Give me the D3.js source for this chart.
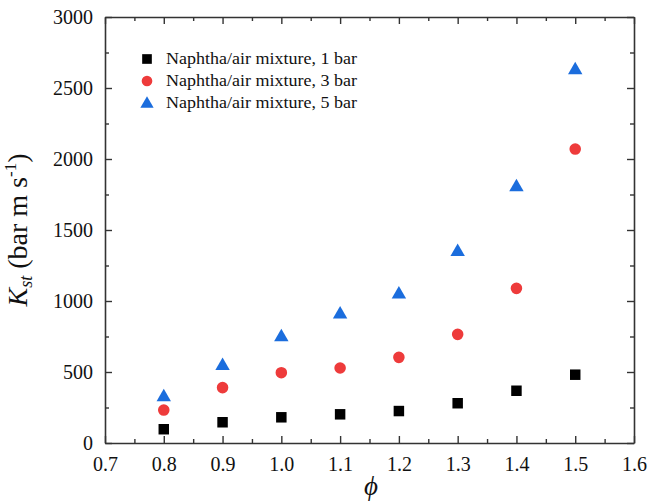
<!DOCTYPE html>
<html><head><meta charset="utf-8">
<script src="https://cdn.jsdelivr.net/npm/d3@7"></script>
<style>body{margin:0;background:#fff;} svg{display:block;} svg text{font-family:"Liberation Serif","Times New Roman",serif !important;}</style>
</head><body>
<script>
const phi = [0.8, 0.9, 1.0, 1.1, 1.2, 1.3, 1.4, 1.5];
const kst1bar = [97, 146, 181, 202, 225, 280, 368, 481];
const kst3bar = [232, 390, 495, 528, 603, 765, 1089, 2070];
const kst5bar = [331, 551, 753, 913, 1054, 1354, 1810, 2634];
const seriesNames = ["Naphtha/air mixture, 1 bar", "Naphtha/air mixture, 3 bar", "Naphtha/air mixture, 5 bar"];
const xTicks = [0.7, 0.8, 0.9, 1.0, 1.1, 1.2, 1.3, 1.4, 1.5, 1.6];
const yTicks = [0, 500, 1000, 1500, 2000, 2500, 3000];

const W = 649, H = 502;
const m = {l: 105, r: 15, t: 17, b: 59};
const svg = d3.select("body").append("svg").attr("width", W).attr("height", H);
const x = d3.scaleLinear().domain([0.7, 1.6]).range([m.l, W - m.r]);
const y = d3.scaleLinear().domain([0, 3000]).range([H - m.b, m.t]);
const axisColor = "#333";

function styleAxis(g) {
  g.attr("font-family", null);
  g.select(".domain").attr("stroke", axisColor).attr("stroke-width", 1.6);
  g.selectAll(".tick line").attr("stroke", axisColor).attr("stroke-width", 1.4);
  g.selectAll("text").style("font-size", "20px").attr("fill", "#111");
}
const xMinor = d3.range(0.75, 1.6, 0.1);
const yMinor = d3.range(250, 3000, 500);
function minorStyle(g) { g.select(".domain").remove(); g.selectAll("line").attr("stroke", axisColor).attr("stroke-width", 1.4); }

// bottom
const gb = svg.append("g").attr("transform", `translate(0,${H - m.b})`)
  .call(d3.axisBottom(x).tickValues(xTicks).tickFormat(d3.format(".1f")).tickSizeInner(-7).tickSizeOuter(0).tickPadding(14));
styleAxis(gb);
svg.append("g").attr("transform", `translate(0,${H - m.b})`)
  .call(d3.axisBottom(x).tickValues(xMinor).tickFormat("").tickSizeInner(-4).tickSizeOuter(0)).call(minorStyle);
// top
const gt = svg.append("g").attr("transform", `translate(0,${m.t})`)
  .call(d3.axisTop(x).tickValues(xTicks).tickFormat("").tickSizeInner(-7).tickSizeOuter(0));
styleAxis(gt);
svg.append("g").attr("transform", `translate(0,${m.t})`)
  .call(d3.axisTop(x).tickValues(xMinor).tickFormat("").tickSizeInner(-4).tickSizeOuter(0)).call(minorStyle);
// left
const gl = svg.append("g").attr("transform", `translate(${m.l},0)`)
  .call(d3.axisLeft(y).tickValues(yTicks).tickFormat(d3.format("d")).tickSizeInner(-7).tickSizeOuter(0).tickPadding(12));
styleAxis(gl);
svg.append("g").attr("transform", `translate(${m.l},0)`)
  .call(d3.axisLeft(y).tickValues(yMinor).tickFormat("").tickSizeInner(-4).tickSizeOuter(0)).call(minorStyle);
// right
const gr = svg.append("g").attr("transform", `translate(${W - m.r},0)`)
  .call(d3.axisRight(y).tickValues(yTicks).tickFormat("").tickSizeInner(-7).tickSizeOuter(0));
styleAxis(gr);
svg.append("g").attr("transform", `translate(${W - m.r},0)`)
  .call(d3.axisRight(y).tickValues(yMinor).tickFormat("").tickSizeInner(-4).tickSizeOuter(0)).call(minorStyle);

// series
const series = [
  {vals: kst1bar, color: "#000000", sym: d3.symbolSquare, size: 110},
  {vals: kst3bar, color: "#ee3b3b", sym: d3.symbolCircle, size: 105},
  {vals: kst5bar, color: "#1b6ddd", sym: d3.symbolTriangle, size: 90}
];
series.forEach(s => {
  svg.append("g").selectAll("path").data(phi.map((p, i) => [p, s.vals[i]])).join("path")
    .attr("d", d3.symbol(s.sym, s.size))
    .attr("transform", d => `translate(${x(d[0])},${y(d[1]) + (s.sym === d3.symbolTriangle ? 1 : 0)})`)
    .attr("fill", s.color);
});

// legend
const lg = svg.append("g");
series.forEach((s, i) => {
  const cy = 59 + i * 22;
  lg.append("path").attr("d", d3.symbol(s.sym, s.size * 0.85)).attr("transform", `translate(147,${cy + (s.sym === d3.symbolTriangle ? 1 : 0)})`).attr("fill", s.color);
  lg.append("text").attr("x", 166).attr("y", cy + 5).style("font-size", "16.5px")
    .attr("textLength", 191).attr("lengthAdjust", "spacingAndGlyphs")
    .attr("fill", "#111").text(seriesNames[i]);
});

// axis titles
svg.append("text").attr("x", 371).attr("y", 495).attr("text-anchor", "middle")
  .style("font-size", "27px").attr("font-style", "italic").attr("fill", "#111").text("\u03D5");
const yl = svg.append("text").attr("transform", `translate(27,${(m.t + H - m.b) / 2}) rotate(-90)`)
  .attr("text-anchor", "middle").style("font-size", "28px").attr("fill", "#111");
yl.append("tspan").attr("font-style", "italic").text("K");
yl.append("tspan").attr("font-style", "italic").style("font-size", "18px").attr("dy", 5).text("st");
yl.append("tspan").attr("dy", -5).text(" (bar m s");
yl.append("tspan").style("font-size", "17px").attr("dy", -11).text("-1");
yl.append("tspan").attr("dy", 11).text(")");
</script>
</body></html>
